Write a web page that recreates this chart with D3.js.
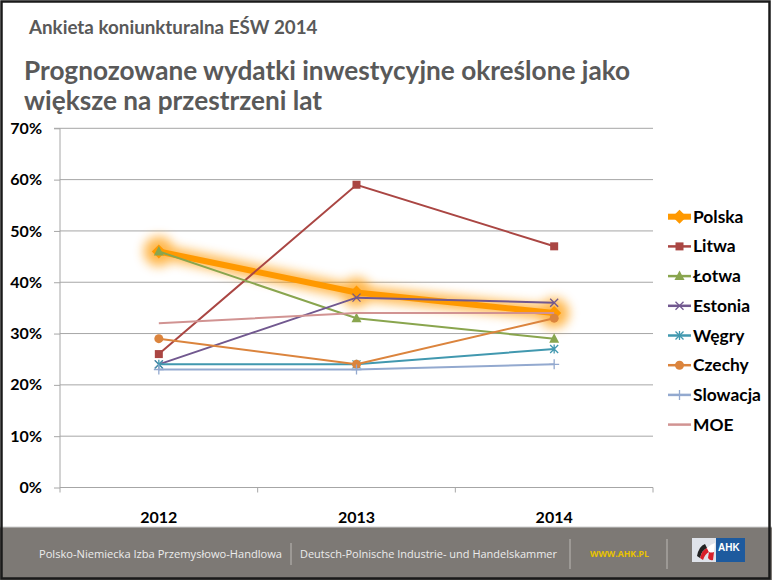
<!DOCTYPE html>
<html><head><meta charset="utf-8">
<script src="https://cdn.jsdelivr.net/npm/d3@7"></script>
<style>
html,body{margin:0;padding:0;background:#fff;}
svg{display:block;font-family:Lato,"Open Sans",sans-serif;}
</style></head>
<body>
<svg id="c" width="772" height="580"></svg>
<script>
const years = ["2012","2013","2014"];
const yTicks = [0,10,20,30,40,50,60,70];
const seriesNames = ["Polska","Litwa","Łotwa","Estonia","Węgry","Czechy","Slowacja","MOE"];
const polska   = [46,38,34];
const litwa    = [26,59,47];
const lotwa    = [46,33,29];
const estonia  = [24,37,36];
const wegry    = [24,24,27];
const czechy   = [29,24,33];
const slowacja = [23,23,24];
const moe      = [32,34,34];
const seriesValues = [polska,litwa,lotwa,estonia,wegry,czechy,slowacja,moe];
const colors = ["#FF9900","#AA4643","#89A54E","#71588F","#4198AF","#DB843D","#93A9CF","#D19392"];
const markers = ["diamond","square","triangle","x","asterisk","circle","plus","none"];

const svg = d3.select("#c");
const defs = svg.append("defs");
const f = defs.append("filter").attr("id","glow").attr("x","-50%").attr("y","-50%").attr("width","200%").attr("height","200%");
f.append("feGaussianBlur").attr("stdDeviation",5.5);

svg.append("rect").attr("x",0).attr("y",0).attr("width",772).attr("height",580).attr("fill","#fff");

// titles
svg.append("text").attr("x",29).attr("y",34).attr("font-size",18.8).attr("font-weight","bold").attr("fill","#595959").text("Ankieta koniunkturalna EŚW 2014");
svg.append("text").attr("x",24).attr("y",80).attr("font-size",26.2).attr("font-weight","bold").attr("fill","#595959").text("Prognozowane wydatki inwestycyjne określone jako");
svg.append("text").attr("x",24).attr("y",110).attr("font-size",26.2).attr("font-weight","bold").attr("fill","#595959").text("większe na przestrzeni lat");

const L=60,R=653,T=128.3,B=487.5;
const x = d3.scaleBand().domain(years).range([L,R]);
const y = d3.scaleLinear().domain([0,70]).range([B,T]);
const cx = d => x(d)+x.bandwidth()/2;

// gridlines
svg.append("g").selectAll("line").data(yTicks.filter(t=>t>0)).join("line")
  .attr("x1",L).attr("x2",R).attr("y1",d=>y(d)).attr("y2",d=>y(d))
  .attr("stroke","#a6a6a6").attr("stroke-width",1);

// y axis
const ya = svg.append("g").attr("transform",`translate(${L},0)`)
  .call(d3.axisLeft(y).tickValues(yTicks).tickFormat(d=>d+"%").tickSize(6).tickPadding(12));
ya.select(".domain").attr("stroke","#a6a6a6").attr("d",`M-6,${T}H0V${B+5}`);
ya.selectAll(".tick line").attr("stroke","#a6a6a6");
ya.selectAll("text").attr("font-size",16).attr("font-weight","bold").attr("fill","#000").attr("font-family","Lato");

// x axis
const xa = svg.append("g").attr("transform",`translate(0,${B})`)
  .call(d3.axisBottom(x).tickSize(0).tickPadding(24));
xa.select(".domain").attr("stroke","#a6a6a6").attr("d",`M${L},0H${R}V5`);
xa.selectAll("text").attr("font-size",16).attr("font-weight","bold").attr("fill","#000").attr("font-family","Lato");
svg.append("g").selectAll("line").data([x.domain()[1],x.domain()[2]]).join("line")
  .attr("x1",d=>x(d)).attr("x2",d=>x(d)).attr("y1",B).attr("y2",B+5).attr("stroke","#a6a6a6");

const line = d3.line().x((d,i)=>cx(years[i])).y(d=>y(d));

function marker(g,type,color,px,py,big){
  const s = big?7:4.5;
  if(type==="diamond"){
    g.append("path").attr("d",`M${px},${py-s}L${px+s},${py}L${px},${py+s}L${px-s},${py}Z`).attr("fill",color);
  } else if(type==="square"){
    g.append("rect").attr("x",px-4).attr("y",py-4).attr("width",8).attr("height",8).attr("fill",color);
  } else if(type==="triangle"){
    g.append("path").attr("d",`M${px},${py-5.5}L${px+5},${py+4}L${px-5},${py+4}Z`).attr("fill",color);
  } else if(type==="x"){
    g.append("path").attr("d",`M${px-4},${py-4}L${px+4},${py+4}M${px-4},${py+4}L${px+4},${py-4}`).attr("stroke",color).attr("stroke-width",1.3).attr("fill","none");
  } else if(type==="asterisk"){
    g.append("path").attr("d",`M${px-4},${py-4}L${px+4},${py+4}M${px-4},${py+4}L${px+4},${py-4}M${px},${py-4.5}L${px},${py+4.5}`).attr("stroke",color).attr("stroke-width",1.3).attr("fill","none");
  } else if(type==="circle"){
    g.append("circle").attr("cx",px).attr("cy",py).attr("r",4.5).attr("fill",color);
  } else if(type==="plus"){
    g.append("path").attr("d",`M${px-5},${py}L${px+5},${py}M${px},${py-5}L${px},${py+5}`).attr("stroke",color).attr("stroke-width",1.3).attr("fill","none");
  }
}

// series
seriesValues.forEach((vals,si)=>{
  const g = svg.append("g");
  const col = colors[si];
  if(si===0){
    const glow = g.append("g").attr("filter","url(#glow)").attr("opacity",0.7);
    glow.append("path").attr("d",line(vals)).attr("fill","none").attr("stroke",col).attr("stroke-width",14).attr("stroke-linejoin","round");
    vals.forEach((v,i)=>glow.append("circle").attr("cx",cx(years[i])).attr("cy",y(v)).attr("r",15).attr("fill",col));
    g.append("path").attr("d",line(vals)).attr("fill","none").attr("stroke",col).attr("stroke-width",6).attr("stroke-linejoin","round");
    vals.forEach((v,i)=>marker(g,"diamond",col,cx(years[i]),y(v),true));
  } else {
    g.append("path").attr("d",line(vals)).attr("fill","none").attr("stroke",col).attr("stroke-width",2);
    vals.forEach((v,i)=>marker(g,markers[si],col,cx(years[i]),y(v),false));
  }
});

// legend
const lg = svg.append("g");
seriesNames.forEach((n,i)=>{
  const yy = 216.7 + i*29.7;
  const col = colors[i];
  const g = lg.append("g");
  g.append("line").attr("x1",668).attr("x2",691).attr("y1",yy).attr("y2",yy).attr("stroke",col).attr("stroke-width",i===0?6:2.5);
  marker(g,markers[i],col,679.5,yy,i===0);
  g.append("text").attr("x",693).attr("y",yy+6).attr("font-size",17.4).attr("font-weight","bold").attr("fill","#000").text(n);
});

// footer
svg.append("rect").attr("x",0).attr("y",527).attr("width",772).attr("height",53).attr("fill","#7d7975");
svg.append("line").attr("x1",0).attr("x2",772).attr("y1",527).attr("y2",527).attr("stroke","#cfcfcf").attr("stroke-width",1);
const ft = svg.append("g").attr("font-family","'Open Sans',sans-serif").attr("font-size",11).attr("fill","#ececec");
ft.append("text").attr("x",39).attr("y",558).attr("textLength",243).attr("lengthAdjust","spacingAndGlyphs").text("Polsko-Niemiecka Izba Przemysłowo-Handlowa");
ft.append("text").attr("x",300).attr("y",558).attr("textLength",257).attr("lengthAdjust","spacingAndGlyphs").text("Deutsch-Polnische Industrie- und Handelskammer");
ft.append("text").attr("x",590).attr("y",557).attr("font-size",8).attr("font-weight","bold").attr("fill","#e8c300").attr("textLength",59).attr("lengthAdjust","spacingAndGlyphs").text("WWW.AHK.PL");
[[291,543,565],[570,539,569],[667,539,569]].forEach(s=>svg.append("line").attr("x1",s[0]).attr("x2",s[0]).attr("y1",s[1]).attr("y2",s[2]).attr("stroke","#bdbab6").attr("stroke-width",1));
// logo
svg.append("rect").attr("x",692).attr("y",538).attr("width",24).attr("height",24).attr("fill","#dfe3ea");
svg.append("rect").attr("x",716).attr("y",538).attr("width",29).attr("height",24).attr("fill","#1d5a9e");
svg.append("path").attr("d","M697,556 Q699,546 705,544 L707,548 Q702,550 700,558 Z").attr("fill","#222");
svg.append("path").attr("d","M700,558 Q702,550 707,548 L709,552 Q705,554 703,560 Z").attr("fill","#d8202a");
svg.append("path").attr("d","M707,548 Q711,544 715,543 L714,552 Q711,553 709,552 Z").attr("fill","#ffffff");
svg.append("path").attr("d","M709,552 Q711,553 714,552 L713,560 Q710,561 708,558 Z").attr("fill","#d8202a");
svg.append("text").attr("x",718).attr("y",551).attr("font-family","'Liberation Sans',Arial").attr("font-size",10).attr("font-weight","bold").attr("fill","#fff").text("AHK");

// outer border
svg.append("rect").attr("x",1.5).attr("y",1.5).attr("width",768).attr("height",577).attr("fill","none").attr("stroke","#1a1a1a").attr("stroke-width",2.5);
</script>
</body></html>
